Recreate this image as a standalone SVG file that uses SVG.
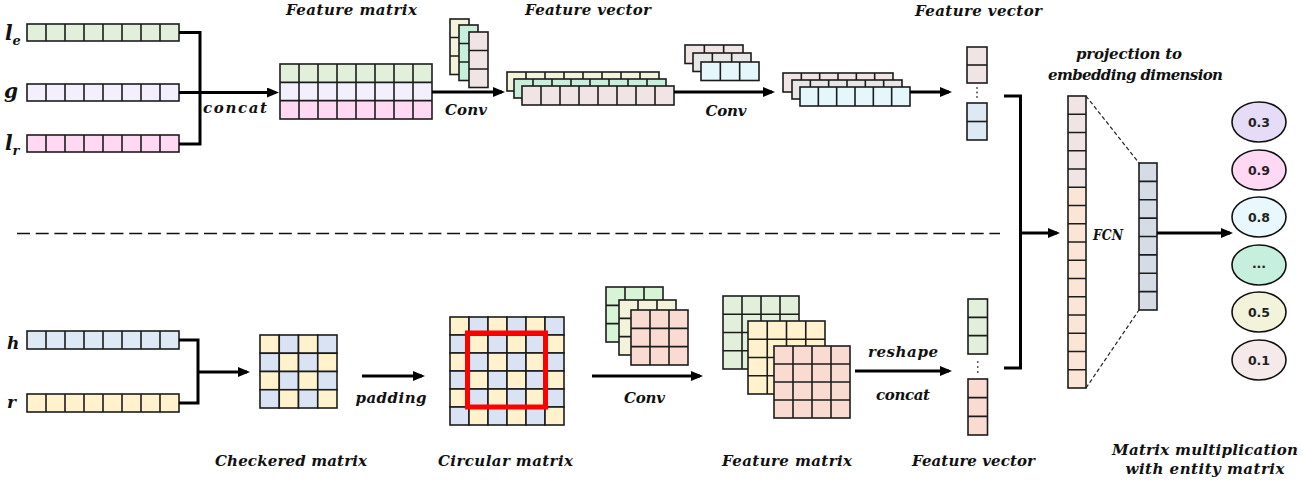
<svg xmlns="http://www.w3.org/2000/svg" width="1303" height="485" viewBox="0 0 1303 485">
<defs>
<style>
.g{fill:none;stroke:#1c1c1c;stroke-width:1.6}
.c{stroke:#1c1c1c;stroke-width:1.6}
.conn{fill:none;stroke:#000;stroke-width:3}
.arr{fill:none;stroke:#000;stroke-width:3;marker-end:url(#ah)}
.lbl{font-family:"DejaVu Serif",serif;font-weight:bold;font-style:italic;font-size:15px;fill:#111;text-anchor:middle}
.var{font-family:"DejaVu Serif",serif;font-weight:bold;font-style:italic;fill:#111}
.num{font-family:"DejaVu Sans",sans-serif;font-weight:bold;font-size:12.5px;fill:#222;text-anchor:middle}
.ell{stroke:#111;stroke-width:1.6}
.ge{fill:#e2efda}.lv{fill:#f3effd}.pk{fill:#ffd9f3}.bl{fill:#dde9f5}.yl{fill:#fff2cc}.cb{fill:#dae3f3}
.be{fill:#f3f3dc}.mt{fill:#c7efdc}.rs{fill:#f0e4e4}.gy{fill:#e7e7e7}.cy{fill:#e6f7fb}
.pe{fill:#fbe5d6}.sl{fill:#d6dce5}.sa{fill:#fadbd2}.kg{fill:#d7f4d7}
</style>
<marker id="ah" markerUnits="userSpaceOnUse" markerWidth="13" markerHeight="11" refX="9" refY="5" orient="auto">
<path d="M0,0L12,5L0,10z" fill="#000"/>
</marker>
</defs>
<rect width="1303" height="485" fill="#fff"/>

<!-- top input vectors -->
<g id="vec-le">
<rect class="c ge" x="27" y="24" width="152" height="17"/>
<path class="g" d="M46,24v17M65,24v17M84,24v17M103,24v17M122,24v17M141,24v17M160,24v17"/>
<text class="var" x="5" y="40" font-size="20">l<tspan font-size="13" dy="5">e</tspan></text>
</g>
<g id="vec-g">
<rect class="c lv" x="27" y="84" width="152" height="17"/>
<path class="g" d="M46,84v17M65,84v17M84,84v17M103,84v17M122,84v17M141,84v17M160,84v17"/>
<text class="var" x="4" y="98" font-size="20">g</text>
</g>
<g id="vec-lr">
<rect class="c pk" x="27" y="135" width="152" height="17"/>
<path class="g" d="M46,135v17M65,135v17M84,135v17M103,135v17M122,135v17M141,135v17M160,135v17"/>
<text class="var" x="5" y="150" font-size="20">l<tspan font-size="13" dy="5">r</tspan></text>
</g>

<!-- top feature matrix -->
<g id="top-feature-matrix">
<rect class="ge" x="280" y="64" width="152" height="18.33"/>
<rect class="lv" x="280" y="82.33" width="152" height="18.34"/>
<rect class="pk" x="280" y="100.67" width="152" height="18.33"/>
<rect class="g" x="280" y="64" width="152" height="55"/>
<path class="g" d="M280,82.33H432M280,100.67H432M299,64v55M318,64v55M337,64v55M356,64v55M375,64v55M394,64v55M413,64v55"/>
<text class="lbl" x="351.5" y="15" textLength="131">Feature matrix</text>
</g>

<!-- top kernels 1 -->
<g id="top-kernels-1">
<rect class="c be" x="450" y="19" width="19" height="55.5"/>
<path class="g" d="M450,37.5h19M450,56h19"/>
<rect class="c mt" x="459" y="25" width="19" height="55.5"/>
<path class="g" d="M459,43.5h19M459,62h19"/>
<rect class="c rs" x="469" y="32" width="19" height="55.5"/>
<path class="g" d="M469,50.5h19M469,69h19"/>
</g>

<!-- top feature vector stack 1 -->
<g id="top-feature-vectors-1">
<rect class="c be" x="507" y="72" width="152" height="19"/>
<path class="g" d="M526,72v19M545,72v19M564,72v19M583,72v19M602,72v19M621,72v19M640,72v19"/>
<rect class="c mt" x="514" y="79" width="152" height="19"/>
<path class="g" d="M533,79v19M552,79v19M571,79v19M590,79v19M609,79v19M628,79v19M647,79v19"/>
<rect class="c rs" x="522" y="86" width="152" height="19"/>
<path class="g" d="M541,86v19M560,86v19M579,86v19M598,86v19M617,86v19M636,86v19M655,86v19"/>
<text class="lbl" x="588" y="15" textLength="126">Feature vector</text>
</g>

<!-- top kernels 2 -->
<g id="top-kernels-2">
<rect class="c rs" x="685" y="45" width="58" height="18.5"/>
<path class="g" d="M704.33,45v18.5M723.67,45v18.5"/>
<rect class="c gy" x="693" y="53" width="58" height="18.5"/>
<path class="g" d="M712.33,53v18.5M731.67,53v18.5"/>
<rect class="c cy" x="701" y="62" width="58" height="18.5"/>
<path class="g" d="M720.33,62v18.5M739.67,62v18.5"/>
</g>

<!-- top feature vector stack 2 -->
<g id="top-feature-vectors-2">
<rect class="c rs" x="783" y="73" width="110" height="19"/>
<path class="g" d="M801.33,73v19M819.67,73v19M838,73v19M856.33,73v19M874.67,73v19"/>
<rect class="c gy" x="792" y="80" width="110" height="19"/>
<path class="g" d="M810.33,80v19M828.67,80v19M847,80v19M865.33,80v19M883.67,80v19"/>
<rect class="c cy" x="800" y="87" width="110" height="19"/>
<path class="g" d="M818.33,87v19M836.67,87v19M855,87v19M873.33,87v19M891.67,87v19"/>
</g>

<!-- top feature vector column -->
<g id="top-feature-column">
<rect class="c rs" x="967" y="47" width="20" height="36"/>
<path class="g" d="M967,65h20"/>
<circle cx="977" cy="88" r="0.9" fill="#444"/>
<circle cx="977" cy="92.5" r="0.9" fill="#444"/>
<circle cx="977" cy="97" r="0.9" fill="#444"/>
<rect class="c bl" x="967" y="103" width="20" height="37"/>
<path class="g" d="M967,121.5h20"/>
<text class="lbl" x="978.5" y="16" textLength="127">Feature vector</text>
</g>

<!-- bottom input vectors -->
<g id="vec-h">
<rect class="c bl" x="27" y="331" width="152" height="18"/>
<path class="g" d="M46,331v18M65,331v18M84,331v18M103,331v18M122,331v18M141,331v18M160,331v18"/>
<text class="var" x="7" y="349" font-size="17">h</text>
</g>
<g id="vec-r">
<rect class="c yl" x="27" y="394" width="152" height="18"/>
<path class="g" d="M46,394v18M65,394v18M84,394v18M103,394v18M122,394v18M141,394v18M160,394v18"/>
<text class="var" x="7" y="408" font-size="17">r</text>
</g>

<!-- checkered matrix -->
<g id="checkered-matrix">
<rect class="c yl" x="260" y="335" width="19.25" height="18.25"/><rect class="c cb" x="279.25" y="335" width="19.25" height="18.25"/><rect class="c yl" x="298.5" y="335" width="19.25" height="18.25"/><rect class="c cb" x="317.75" y="335" width="19.25" height="18.25"/>
<rect class="c cb" x="260" y="353.25" width="19.25" height="18.25"/><rect class="c yl" x="279.25" y="353.25" width="19.25" height="18.25"/><rect class="c cb" x="298.5" y="353.25" width="19.25" height="18.25"/><rect class="c yl" x="317.75" y="353.25" width="19.25" height="18.25"/>
<rect class="c yl" x="260" y="371.5" width="19.25" height="18.25"/><rect class="c cb" x="279.25" y="371.5" width="19.25" height="18.25"/><rect class="c yl" x="298.5" y="371.5" width="19.25" height="18.25"/><rect class="c cb" x="317.75" y="371.5" width="19.25" height="18.25"/>
<rect class="c cb" x="260" y="389.75" width="19.25" height="18.25"/><rect class="c yl" x="279.25" y="389.75" width="19.25" height="18.25"/><rect class="c cb" x="298.5" y="389.75" width="19.25" height="18.25"/><rect class="c yl" x="317.75" y="389.75" width="19.25" height="18.25"/>
<text class="lbl" x="291" y="466" textLength="152">Checkered matrix</text>
</g>

<!-- circular matrix -->
<g id="circular-matrix">
<rect class="c yl" x="450" y="317" width="19" height="18"/><rect class="c cb" x="469" y="317" width="19" height="18"/><rect class="c yl" x="488" y="317" width="19" height="18"/><rect class="c cb" x="507" y="317" width="19" height="18"/><rect class="c yl" x="526" y="317" width="19" height="18"/><rect class="c cb" x="545" y="317" width="19" height="18"/>
<rect class="c cb" x="450" y="335" width="19" height="18"/><rect class="c yl" x="469" y="335" width="19" height="18"/><rect class="c cb" x="488" y="335" width="19" height="18"/><rect class="c yl" x="507" y="335" width="19" height="18"/><rect class="c cb" x="526" y="335" width="19" height="18"/><rect class="c yl" x="545" y="335" width="19" height="18"/>
<rect class="c yl" x="450" y="353" width="19" height="18"/><rect class="c cb" x="469" y="353" width="19" height="18"/><rect class="c yl" x="488" y="353" width="19" height="18"/><rect class="c cb" x="507" y="353" width="19" height="18"/><rect class="c yl" x="526" y="353" width="19" height="18"/><rect class="c cb" x="545" y="353" width="19" height="18"/>
<rect class="c cb" x="450" y="371" width="19" height="18"/><rect class="c yl" x="469" y="371" width="19" height="18"/><rect class="c cb" x="488" y="371" width="19" height="18"/><rect class="c yl" x="507" y="371" width="19" height="18"/><rect class="c cb" x="526" y="371" width="19" height="18"/><rect class="c yl" x="545" y="371" width="19" height="18"/>
<rect class="c yl" x="450" y="389" width="19" height="18"/><rect class="c cb" x="469" y="389" width="19" height="18"/><rect class="c yl" x="488" y="389" width="19" height="18"/><rect class="c cb" x="507" y="389" width="19" height="18"/><rect class="c yl" x="526" y="389" width="19" height="18"/><rect class="c cb" x="545" y="389" width="19" height="18"/>
<rect class="c cb" x="450" y="407" width="19" height="18"/><rect class="c yl" x="469" y="407" width="19" height="18"/><rect class="c cb" x="488" y="407" width="19" height="18"/><rect class="c yl" x="507" y="407" width="19" height="18"/><rect class="c cb" x="526" y="407" width="19" height="18"/><rect class="c yl" x="545" y="407" width="19" height="18"/>
<rect x="467.5" y="333" width="78" height="74" fill="none" stroke="#ff0000" stroke-width="5"/>
<text class="lbl" x="505.5" y="466" textLength="135">Circular matrix</text>
</g>

<!-- bottom kernels 3x3 -->
<g id="bottom-kernels">
<rect class="c kg" x="606" y="287" width="57" height="55"/>
<path class="g" d="M625,287v55M644,287v55M606,305.33h57M606,323.67h57"/>
<rect class="c be" x="619" y="300" width="57" height="55"/>
<path class="g" d="M638,300v55M657,300v55M619,318.33h57M619,336.67h57"/>
<rect class="c sa" x="631" y="310" width="57" height="55"/>
<path class="g" d="M650,310v55M669,310v55M631,328.33h57M631,346.67h57"/>
</g>

<!-- bottom feature matrices -->
<g id="bottom-feature-matrix">
<rect class="c ge" x="723" y="296" width="76" height="73"/>
<path class="g" d="M742,296v73M761,296v73M780,296v73M723,314.25h76M723,332.5h76M723,350.75h76"/>
<rect class="c yl" x="748" y="321" width="77" height="73"/>
<path class="g" d="M767.25,321v73M786.5,321v73M805.75,321v73M748,339.25h77M748,357.5h77M748,375.75h77"/>
<rect class="c sa" x="774" y="346" width="76" height="72"/>
<path class="g" d="M793,346v72M812,346v72M831,346v72M774,364h76M774,382h76M774,400h76"/>
<text class="lbl" x="787" y="466" textLength="130">Feature matrix</text>
</g>

<!-- bottom feature vector column -->
<g id="bottom-feature-column">
<rect class="c ge" x="968" y="299" width="19.5" height="55"/>
<path class="g" d="M968,317.33h19.5M968,335.67h19.5"/>
<circle cx="977.75" cy="362" r="0.9" fill="#444"/>
<circle cx="977.75" cy="367" r="0.9" fill="#444"/>
<circle cx="977.75" cy="372" r="0.9" fill="#444"/>
<rect class="c sa" x="968" y="379" width="19.5" height="56"/>
<path class="g" d="M968,397.67h19.5M968,416.33h19.5"/>
<text class="lbl" x="973.5" y="466" textLength="123">Feature vector</text>
</g>

<!-- FCN -->
<g id="fcn-input">
<rect class="rs" x="1068" y="96" width="18" height="91.25"/>
<rect class="pe" x="1068" y="187.25" width="18" height="200.75"/>
<rect class="g" x="1068" y="96" width="18" height="292"/>
<path class="g" d="M1068,114.25h18M1068,132.5h18M1068,150.75h18M1068,169h18M1068,187.25h18M1068,205.5h18M1068,223.75h18M1068,242h18M1068,260.25h18M1068,278.5h18M1068,296.75h18M1068,315h18M1068,333.25h18M1068,351.5h18M1068,369.75h18"/>
<text class="lbl" x="1129" y="59" textLength="106">projection to</text>
<text class="lbl" x="1135.5" y="80" textLength="175">embedding dimension</text>
</g>
<g id="fcn-output">
<rect class="c sl" x="1139" y="163" width="18" height="147"/>
<path class="g" d="M1139,181.375h18M1139,199.75h18M1139,218.125h18M1139,236.5h18M1139,254.875h18M1139,273.25h18M1139,291.625h18"/>
</g>
<g id="fcn">
<path d="M1086,96L1139,163M1086,388L1139,310" fill="none" stroke="#222" stroke-width="1.2" stroke-dasharray="4 2.5"/>
<text class="lbl" x="1108" y="240" font-size="13" textLength="30" lengthAdjust="spacingAndGlyphs">FCN</text>
</g>

<!-- scores -->
<g id="scores">
<ellipse class="ell" cx="1259" cy="122" rx="27" ry="20" fill="#e6dcf7"/>
<text class="num" x="1259" y="126.5">0.3</text>
<ellipse class="ell" cx="1259" cy="170" rx="27" ry="20" fill="#ffd9f4"/>
<text class="num" x="1259" y="174.5">0.9</text>
<ellipse class="ell" cx="1259" cy="217" rx="27" ry="20" fill="#e9f8fc"/>
<text class="num" x="1259" y="221.5">0.8</text>
<ellipse class="ell" cx="1259" cy="265" rx="27" ry="20" fill="#c6f0dd"/>
<text class="num" x="1259" y="268" font-size="10">...</text>
<ellipse class="ell" cx="1259" cy="312" rx="27" ry="20" fill="#f3f3dc"/>
<text class="num" x="1259" y="316.5">0.5</text>
<ellipse class="ell" cx="1259" cy="360" rx="27" ry="20" fill="#f6e9ea"/>
<text class="num" x="1259" y="364.5">0.1</text>
<text class="lbl" x="1205" y="455" textLength="186">Matrix multiplication</text>
<text class="lbl" x="1205" y="474" textLength="159">with entity matrix</text>
</g>

<!-- connectors -->
<g id="connectors">
<path class="conn" d="M179,32.5H200V144H179"/>
<path class="arr" d="M179,92.5H276"/>
<text class="lbl" x="235" y="113" textLength="64">concat</text>
<path class="arr" d="M432,92H502"/>
<text class="lbl" x="466" y="115" textLength="42">Conv</text>
<path class="arr" d="M674,92H772"/>
<text class="lbl" x="726" y="116" textLength="41">Conv</text>
<path class="arr" d="M910,92H949"/>
<path class="conn" d="M1004,96H1020.5V368H1004"/>
<path class="arr" d="M1020.5,233H1057"/>
<path class="arr" d="M1157,233H1230"/>
<path d="M17,233.5H1000" fill="none" stroke="#111" stroke-width="1.6" stroke-dasharray="13 5.7"/>
<path class="conn" d="M179,340H198V403H179"/>
<path class="arr" d="M198,372H247"/>
<path class="arr" d="M362,376H422"/>
<text class="lbl" x="391" y="403" textLength="71">padding</text>
<path class="arr" d="M592,376H700"/>
<text class="lbl" x="644.5" y="403" textLength="41">Conv</text>
<path class="arr" d="M855,371H949"/>
<text class="lbl" x="903" y="357" textLength="70">reshape</text>
<text class="lbl" x="903" y="400" textLength="54">concat</text>
</g>
</svg>
